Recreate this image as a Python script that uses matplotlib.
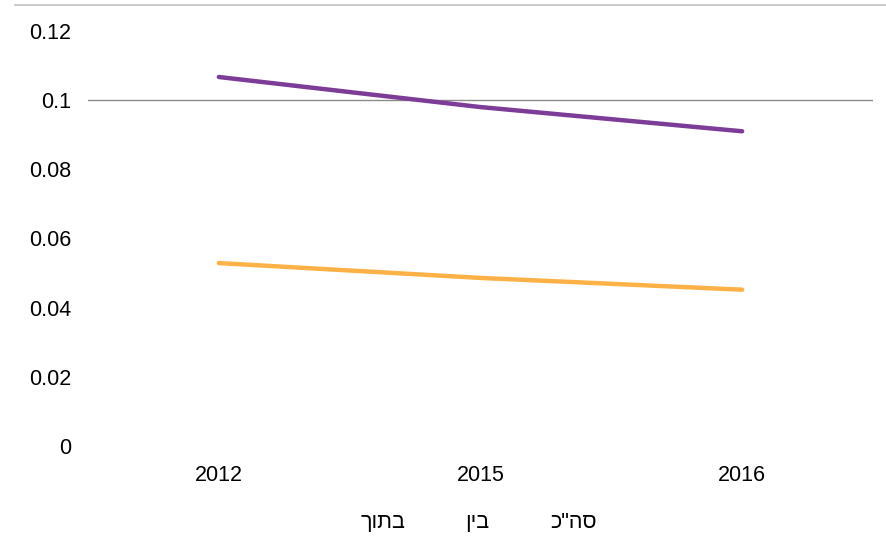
import matplotlib.pyplot as plt
from matplotlib.lines import Line2D

years = ['2012', '2015', '2016']
total = [0.1067, 0.0980, 0.0910]
within = [0.0529, 0.0486, 0.0452]

# hebrew labels, stored in visual order since matplotlib has no bidi
lab_within = 'ךותב'
lab_between = 'ןיב'
lab_total = 'כ"הס'

plt.rcParams['font.family'] = ['Liberation Sans', 'DejaVu Sans']

fig = plt.figure(figsize=(8.86, 5.52), dpi=100)
ax = fig.add_axes([88/886, 1 - 446/552, (873-88)/886, (446-31)/552])

x = range(len(years))
ax.plot(x, total, color='#7d3c98', lw=3.2, solid_capstyle='round')
ax.plot(x, within, color='#fdb147', lw=3.2, solid_capstyle='round')
ax.axhline(0.1, color='#8c8c8c', lw=1.0, zorder=0)

ax.set_xlim(-0.5, 2.5)
ax.set_ylim(0, 0.12)
ax.set_xticks(list(x))
ax.set_xticklabels(years)
ax.set_yticks([0, 0.02, 0.04, 0.06, 0.08, 0.1, 0.12])
ax.set_yticklabels(['0', '0.02', '0.04', '0.06', '0.08', '0.1', '0.12'])
ax.tick_params(length=0, labelsize=15.5, colors='black')
ax.tick_params(axis='y', pad=12)
ax.tick_params(axis='x', pad=14)
for s in ax.spines.values():
    s.set_visible(False)

# legend entries carry no visible marker
blank = [Line2D([], [], color='none') for _ in range(3)]
fig.legend(blank, [lab_within, lab_between, lab_total], loc='center',
           bbox_to_anchor=(458/886, 1 - 522/552), ncol=3, frameon=False,
           fontsize=15.5, handlelength=1.5, handletextpad=0.4,
           columnspacing=0.9)

# thin rule across the top of the chart area
fig.add_artist(Line2D([15/886, 1], [1 - 5/552, 1 - 5/552],
                      color='#c0c0c0', lw=1.2))

fig.savefig('out.png', dpi=100)
